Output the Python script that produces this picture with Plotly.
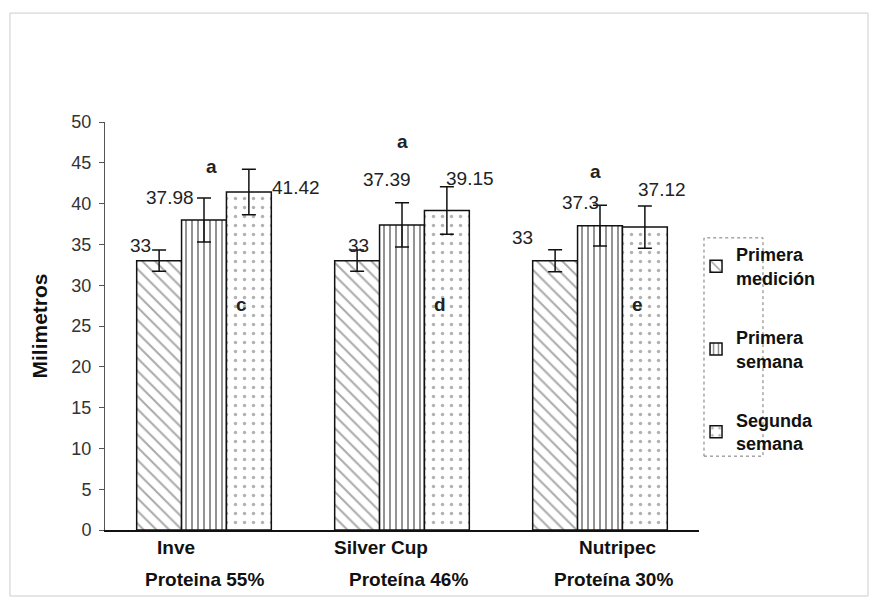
import plotly.graph_objects as go

# Feed groups and measurement series
groups = ["Inve", "Silver Cup", "Nutripec"]
group_protein = ["Proteina 55%", "Proteína 46%", "Proteína 30%"]
series_names = ["Primera<br>medición", "Primera<br>semana", "Segunda<br>semana"]

primera_medicion = [33, 33, 33]
primera_semana = [37.98, 37.39, 37.3]
segunda_semana = [41.42, 39.15, 37.12]

err_primera_medicion = [1.3, 1.3, 1.35]
err_primera_semana = [2.7, 2.7, 2.5]
err_segunda_semana = [2.8, 2.9, 2.6]

# Significance letters
letters_top = ["a", "a", "a"]
letters_in = ["c", "d", "e"]

y_ticks = [0, 5, 10, 15, 20, 25, 30, 35, 40, 45, 50]

FONT = "Arial, Liberation Sans, sans-serif"
x_idx = list(range(len(groups)))

patterns = [
    dict(shape="\\", size=9, solidity=0.22, fgcolor="#555555", bgcolor="white", fillmode="overlay"),
    dict(shape="|", size=6, solidity=0.3, fgcolor="#111111", bgcolor="white", fillmode="overlay"),
    dict(shape=".", size=9, solidity=0.12, fgcolor="#666666", bgcolor="white", fillmode="overlay"),
]
values = [primera_medicion, primera_semana, segunda_semana]
errors = [err_primera_medicion, err_primera_semana, err_segunda_semana]

fig = go.Figure()
for i, (name, vals, errs, pat) in enumerate(zip(series_names, values, errors, patterns)):
    fig.add_trace(go.Bar(
        x=x_idx, y=vals, name=f"<b>{name}</b>", legendgroup=f"g{i}",
        marker=dict(color="white", line=dict(color="#111111", width=1.5), pattern=pat),
        error_y=dict(type="data", array=errs, visible=True, color="#111111", thickness=1.5, width=7),
        hoverinfo="skip",
    ))

annotations = []
# value labels (offsets within each group, in category units)
label_dx = [
    [-0.323, -0.172, 0.465],
    [-0.222, -0.076, 0.343],
    [-0.389, -0.101, 0.313],
]
label_y = [
    [34.9, 40.7, 42.0],
    [34.9, 42.9, 43.1],
    [35.9, 40.1, 41.7],
]
for g in x_idx:
    for s in range(3):
        v = values[s][g]
        annotations.append(dict(
            x=g + label_dx[g][s], y=label_y[g][s], text=f"{v:g}", showarrow=False,
            font=dict(family=FONT, size=19, color="#222222"), xref="x", yref="y",
        ))

top_pos = [(0.04, 44.5), (1.0, 47.6), (1.975, 43.9)]
for (xx, yy), t in zip(top_pos, letters_top):
    annotations.append(dict(x=xx, y=yy, text=f"<b>{t}</b>", showarrow=False,
                            font=dict(family=FONT, size=19, color="#222222")))
in_pos = [(0.19, 27.6), (1.19, 27.6), (2.187, 27.6)]
for (xx, yy), t in zip(in_pos, letters_in):
    annotations.append(dict(x=xx, y=yy, text=f"<b>{t}</b>", showarrow=False,
                            font=dict(family=FONT, size=19, color="#222222")))

# category labels, two lines each
name_x = [-0.247, 0.646, 1.884]
prot_x = [-0.308, 0.722, 1.758]
for g in x_idx:
    annotations.append(dict(x=name_x[g], y=-0.044, xref="x", yref="paper", xanchor="left",
                            yanchor="middle", text=f"<b>{groups[g]}</b>", showarrow=False,
                            font=dict(family=FONT, size=19, color="#111111")))
    annotations.append(dict(x=prot_x[g], y=-0.1225, xref="x", yref="paper", xanchor="left",
                            yanchor="middle", text=f"<b>{group_protein[g]}</b>", showarrow=False,
                            font=dict(family=FONT, size=19, color="#111111")))

shapes = [
    # dotted frame around the legend keys
    dict(type="rect", xref="paper", yref="paper", x0=1.0084, x1=1.1077, y0=0.181, y1=0.716,
         line=dict(color="#777777", width=1, dash="dot")),
    # outer chart frame
    dict(type="rect", xref="paper", yref="paper", x0=-0.16, x1=1.2845, y0=-0.1618, y1=1.267,
         line=dict(color="#cccccc", width=1)),
]

fig.update_layout(
    width=877, height=606,
    margin=dict(l=105, r=178, t=122, b=76),
    paper_bgcolor="white", plot_bgcolor="white",
    barmode="group", bargap=0.32, bargroupgap=0,
    font=dict(family=FONT, color="#222222"),
    showlegend=True,
    legend=dict(x=0.995, y=0.72, xanchor="left", yanchor="top",
                font=dict(family=FONT, size=18, color="#111111"),
                tracegroupgap=33, itemwidth=30, bgcolor="rgba(0,0,0,0)",
                traceorder="grouped"),
    annotations=annotations,
    shapes=shapes,
    xaxis=dict(range=[-0.5, 2.5], tickvals=x_idx, showticklabels=False, ticks="",
               showline=True, linecolor="#111111", linewidth=1.5, showgrid=False, zeroline=False),
    yaxis=dict(range=[0, 50], tickvals=y_ticks, ticks="outside", ticklen=5, tickcolor="#555555",
               showline=True, linecolor="#555555", linewidth=1, showgrid=False, zeroline=False,
               tickfont=dict(family=FONT, size=18, color="#333333"), ticklabelstandoff=4,
               title=dict(text="<b>Milimetros</b>", font=dict(family=FONT, size=21, color="#111111"),
                          standoff=18)),
)

fig.write_html("out.html")
